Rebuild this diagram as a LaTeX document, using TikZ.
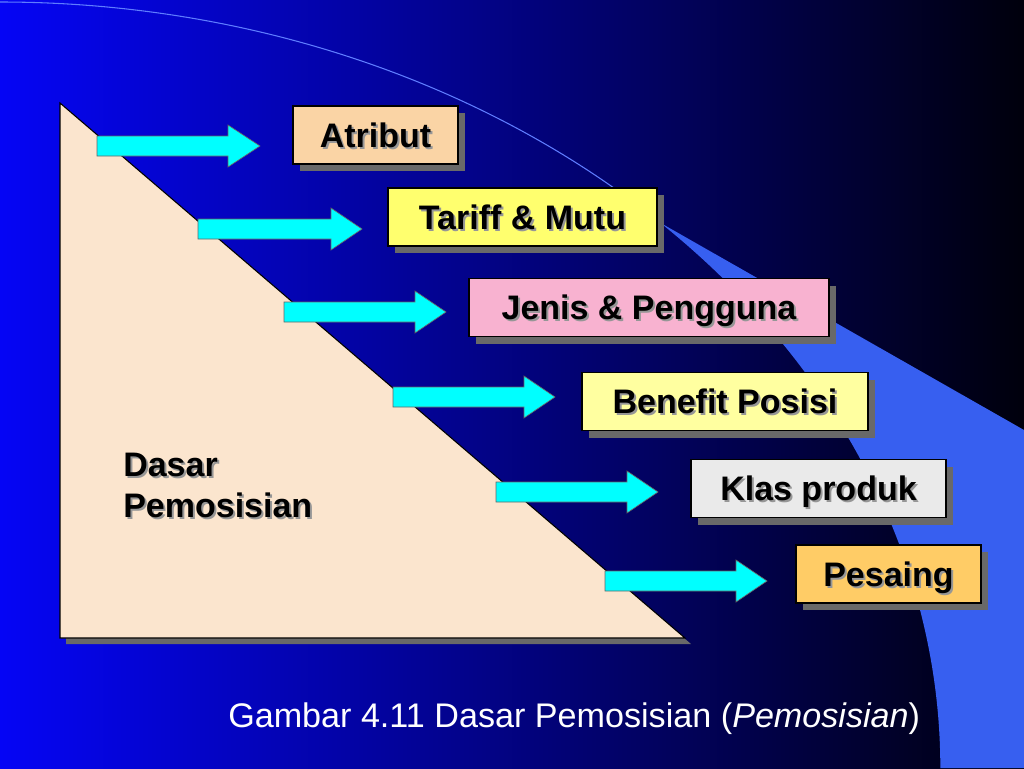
\documentclass[tikz,border=0pt]{standalone}
\usepackage{fontspec}
\setmainfont{Liberation Sans}
\usepackage{tikz}
\usetikzlibrary{shadows}

\definecolor{bgblue}{RGB}{5,5,245}
\definecolor{bgmid}{RGB}{0,0,180}
\definecolor{bgdark}{RGB}{0,0,12}
\definecolor{wedgeblue}{RGB}{55,95,240}
\definecolor{arcline}{RGB}{95,125,255}
\definecolor{trifill}{RGB}{251,229,206}
\definecolor{arrowcyan}{RGB}{0,255,255}
\definecolor{boxshadow}{RGB}{105,105,105}
\definecolor{textshadow}{RGB}{150,150,150}
\definecolor{atributfill}{RGB}{250,212,165}
\definecolor{tariffill}{RGB}{255,255,110}
\definecolor{jenisfill}{RGB}{248,178,208}
\definecolor{benefitfill}{RGB}{255,255,160}
\definecolor{klasfill}{RGB}{234,234,234}
\definecolor{pesaingfill}{RGB}{255,204,102}

\newcommand{\shtext}[1]{\makebox[0pt][l]{\hspace{1.5pt}\raisebox{-1.5pt}{\color{textshadow}#1}}#1}

\begin{document}
\begin{tikzpicture}[x=0.75pt, y=-0.75pt,
  box/.style={draw=black, line width=0.8pt, inner sep=0pt, minimum height=43.5pt,
    text height=18.3pt, text depth=0pt,
    font=\bfseries\fontsize{25.5}{30}\selectfont,
    drop shadow={shadow xshift=5.5pt, shadow yshift=-5.5pt, fill=boxshadow, opacity=1}},
  arrowblk/.style={fill=arrowcyan, draw=black!60, line width=0.5pt}]
\useasboundingbox (0,0) rectangle (1024,768);

% background
\shade[left color=bgblue, middle color=bgmid, right color=bgdark] (0,0) rectangle (1024,768);
\fill[wedgeblue] (660.3,222.8) arc[start angle=-45.4, end angle=0, x radius=940, y radius=766]
  -- (1024,768) -- (1024,430) -- cycle;
\draw[arcline, line width=0.8pt] (0,2) arc[start angle=-90, end angle=-45.4, x radius=940, y radius=766];

% triangle
\draw[fill=trifill, draw=black, line width=0.8pt,
  drop shadow={shadow xshift=4.5pt, shadow yshift=-4.5pt, fill=boxshadow, opacity=1}]
  (60,103) -- (60,638) -- (685,638) -- cycle;

\node[anchor=north west, align=left, inner sep=0pt, font=\bfseries\fontsize{25.5}{30.75}\selectfont] (dasar) at (123,453) {\shtext{Dasar}\\\shtext{Pemosisian}};

% arrows
\draw[arrowblk] (97,136) -- ++(131,0) -- ++(0,-11) -- ++(32,21) -- ++(-32,21) -- ++(0,-11) -- ++(-131,0) -- cycle;
\draw[arrowblk] (198,219) -- ++(133,0) -- ++(0,-11) -- ++(31,21) -- ++(-31,21) -- ++(0,-11) -- ++(-133,0) -- cycle;
\draw[arrowblk] (284,302) -- ++(131,0) -- ++(0,-11) -- ++(31,21) -- ++(-31,21) -- ++(0,-11) -- ++(-131,0) -- cycle;
\draw[arrowblk] (393,387) -- ++(131,0) -- ++(0,-11) -- ++(31,21) -- ++(-31,21) -- ++(0,-11) -- ++(-131,0) -- cycle;
\draw[arrowblk] (496,482) -- ++(131,0) -- ++(0,-11) -- ++(31,21) -- ++(-31,21) -- ++(0,-11) -- ++(-131,0) -- cycle;
\draw[arrowblk] (605,571) -- ++(131,0) -- ++(0,-11) -- ++(31,21) -- ++(-31,21) -- ++(0,-11) -- ++(-131,0) -- cycle;

% boxes
\node[box, fill=atributfill, minimum width=123.75pt] (atribut) at (375.5,135) {\shtext{Atribut}};
\node[box, fill=tariffill, minimum width=201.75pt] (tarif) at (522.5,217) {\shtext{Tariff \& Mutu}};
\node[box, fill=jenisfill, minimum width=270pt] (jenis) at (649,307.5) {\shtext{Jenis \& Pengguna}};
\node[box, fill=benefitfill, minimum width=214.5pt] (benefit) at (725,401.5) {\shtext{Benefit Posisi}};
\node[box, fill=klasfill, minimum width=191.25pt] (klas) at (818.5,488.5) {\shtext{Klas produk}};
\node[box, fill=pesaingfill, minimum width=138.75pt] (pesaing) at (888.5,574) {\shtext{Pesaing}};

% caption
\node[anchor=base west, inner sep=0pt, text=white, font=\fontsize{25.6}{30}\selectfont] (caption) at (228,727) {Gambar 4.11 Dasar Pemosisian (\textit{Pemosisian})};
\end{tikzpicture}
\end{document}
